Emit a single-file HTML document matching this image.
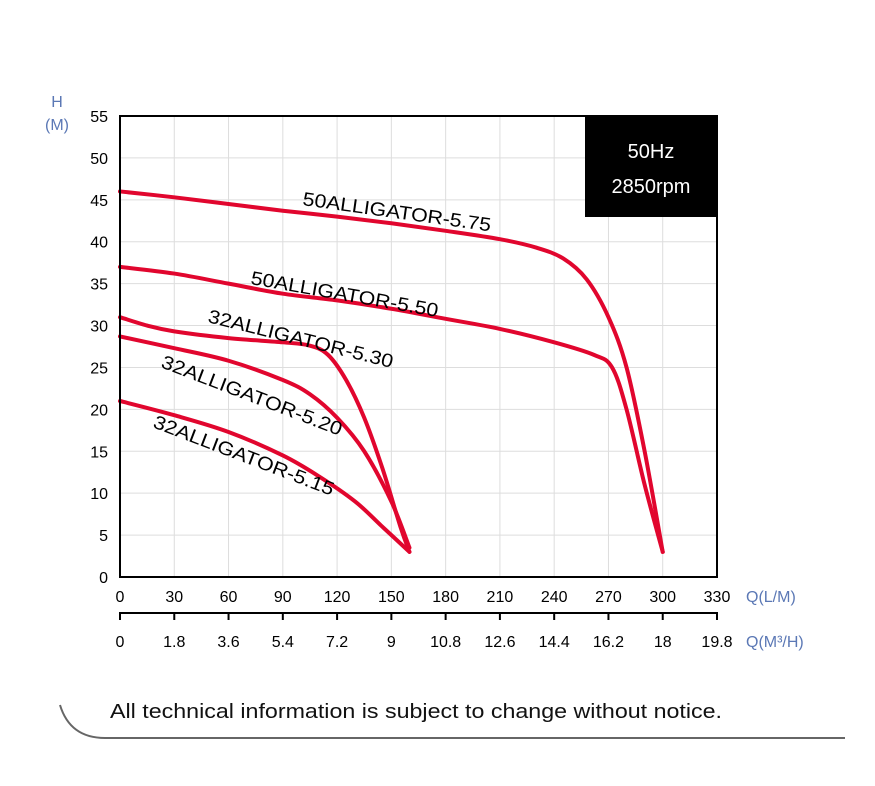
<!DOCTYPE html>
<html><head><meta charset="utf-8"><style>
body{margin:0;background:#fff;}
svg{display:block;font-family:"Liberation Sans",Arial,sans-serif;}
</style></head><body>
<svg id="c" width="875" height="786" viewBox="0 0 875 786">
<g id="grid"></g>
<g id="curves"></g>
<rect x="120" y="116" width="597" height="461" fill="none" stroke="#000" stroke-width="2"/>
<g id="axes"></g>
<text x="57" y="107" font-size="16" fill="#5b78b5" text-anchor="middle">H</text>
<text x="57" y="130" font-size="16" fill="#5b78b5" text-anchor="middle">(M)</text>
<text x="746" y="602" font-size="16" fill="#5b78b5">Q(L/M)</text>
<text x="746" y="647" font-size="16" fill="#5b78b5">Q(M³/H)</text>
<rect x="585" y="116" width="132" height="101" fill="#000"/>
<text x="651" y="158" font-size="20" fill="#fff" text-anchor="middle">50Hz</text>
<text x="651" y="193" font-size="20" fill="#fff" text-anchor="middle">2850rpm</text>
<text x="302" y="205" font-size="19" textLength="190" lengthAdjust="spacingAndGlyphs" transform="rotate(8 302 205)">50ALLIGATOR-5.75</text>
<text x="250" y="284" font-size="19" textLength="190" lengthAdjust="spacingAndGlyphs" transform="rotate(10 250 284)">50ALLIGATOR-5.50</text>
<text x="207" y="322" font-size="19" textLength="190" lengthAdjust="spacingAndGlyphs" transform="rotate(14 207 322)">32ALLIGATOR-5.30</text>
<text x="160" y="367" font-size="19" textLength="192" lengthAdjust="spacingAndGlyphs" transform="rotate(21 160 367)">32ALLIGATOR-5.20</text>
<text x="152" y="427" font-size="19" textLength="192" lengthAdjust="spacingAndGlyphs" transform="rotate(21 152 427)">32ALLIGATOR-5.15</text>
<text x="110" y="718" font-size="20" fill="#111" textLength="612" lengthAdjust="spacingAndGlyphs">All technical information is subject to change without notice.</text>
<path d="M60 705 Q70 738 105 738 L845 738" fill="none" stroke="#666" stroke-width="2"/>
</svg>
<script>
const qTicks=[0,30,60,90,120,150,180,210,240,270,300,330];
const m3Ticks=["0","1.8","3.6","5.4","7.2","9","10.8","12.6","14.4","16.2","18","19.8"];
const hTicks=[0,5,10,15,20,25,30,35,40,45,50,55];
const q575=[0,30,60,90,120,150,180,210,230,245,258,270,280,290,300];
const h575=[46,45.3,44.5,43.7,43,42.2,41.3,40.3,39.3,38,35.5,31,25,15,3];
const q550=[0,30,60,90,120,150,180,210,240,262,272,280,290,300];
const h550=[37,36.2,35,33.8,33,32,30.8,29.6,28,26.5,25,20,11,3];
const q530=[0,15,30,60,90,105,115,125,135,145,155,160];
const h530=[31,30,29.3,28.5,28,27.6,26.5,23.5,19,13,6,3];
const q520=[0,30,60,90,105,120,135,150,160];
const h520=[28.7,27.3,25.8,23.5,21.8,19,15,9,3.5];
const q515=[0,30,60,90,110,130,145,160];
const h515=[21,19.3,17.3,14.5,12,9,6,3];
const NS="http://www.w3.org/2000/svg";
const X=q=>120+q/330*597, Y=h=>577-h/55*461;
function mk(t,a,p){const e=document.createElementNS(NS,t);for(const k in a)e.setAttribute(k,a[k]);p.appendChild(e);return e;}
const grid=document.getElementById('grid'),axes=document.getElementById('axes'),cv=document.getElementById('curves');
qTicks.forEach((q,i)=>{
 const l=mk('line',{x1:X(q),x2:X(q),y1:116,y2:577,stroke:'#ddd','stroke-width':1},grid);
 
 
 const t=mk('text',{x:X(q),y:602,'font-size':16,'text-anchor':'middle'},axes);t.textContent=q;
 
 
 const k=mk('line',{x1:X(q),x2:X(q),y1:612,y2:620,stroke:'#000','stroke-width':2},axes);
 
 
 const t2=mk('text',{x:X(q),y:647,'font-size':16,'text-anchor':'middle'},axes);t2.textContent=m3Ticks[i];
 
 
});
const al=mk('line',{x1:119,x2:718,y1:613,y2:613,stroke:'#000','stroke-width':2},axes);


hTicks.forEach(h=>{
 const l=mk('line',{x1:120,x2:717,y1:Y(h),y2:Y(h),stroke:'#ddd','stroke-width':1},grid);
 
 
 const t=mk('text',{x:108,y:Y(h)+6,'font-size':16,'text-anchor':'end'},axes);t.textContent=h;
 
 
});
function path(qs,hs){const p=qs.map((q,i)=>[X(q),Y(hs[i])]);let d='M'+p[0][0]+' '+p[0][1];
 for(let i=0;i<p.length-1;i++){const p0=p[i-1]||p[i],p1=p[i],p2=p[i+1],p3=p[i+2]||p2;
  d+=` C${p1[0]+(p2[0]-p0[0])/6} ${p1[1]+(p2[1]-p0[1])/6} ${p2[0]-(p3[0]-p1[0])/6} ${p2[1]-(p3[1]-p1[1])/6} ${p2[0]} ${p2[1]}`;}
 return d;}
[[q575,h575,'curve-5-75'],[q550,h550,'curve-5-50'],[q530,h530,'curve-5-30'],[q520,h520,'curve-5-20'],[q515,h515,'curve-5-15']].forEach(s=>{
 const p=mk('path',{d:path(s[0],s[1]),fill:'none',stroke:'#e1062e','stroke-width':4,'stroke-linecap':'round'},cv);
 
 
});
</script>
</body></html>
